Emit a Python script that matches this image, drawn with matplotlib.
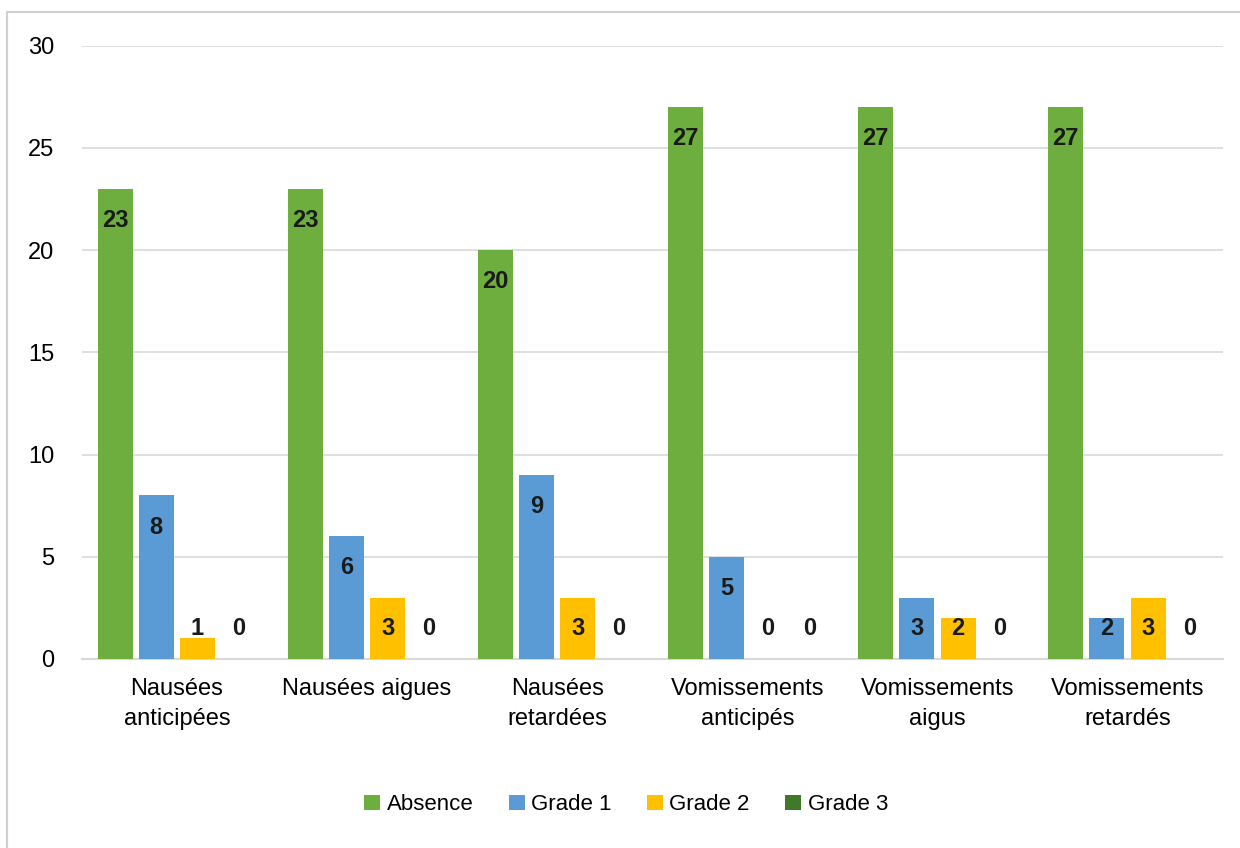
import numpy as np
import matplotlib.pyplot as plt
from matplotlib.patches import Rectangle

plt.rcParams['font.family'] = ['Liberation Sans Narrow', 'Liberation Sans', 'DejaVu Sans']

categories = ["Nausées\nanticipées", "Nausées aigues", "Nausées\nretardées",
              "Vomissements\nanticipés", "Vomissements\naigus", "Vomissements\nretardés"]
series = ["Absence", "Grade 1", "Grade 2", "Grade 3"]
absence = [23, 23, 20, 27, 27, 27]
grade1 = [8, 6, 9, 5, 3, 2]
grade2 = [1, 3, 3, 0, 2, 3]
grade3 = [0, 0, 0, 0, 0, 0]
colors = ["#6DAE3F", "#5B9BD5", "#FFC000", "#3F7A28"]

fig = plt.figure(figsize=(12.4, 8.48), dpi=100)
ax = fig.add_axes([0.066, 0.223, 0.920, 0.723])

x = np.arange(len(categories))
step = 0.217
width = 0.184
for i, (name, vals) in enumerate(zip(series, [absence, grade1, grade2, grade3])):
    pos = x + (i - 1.5) * step
    ax.bar(pos, vals, width, color=colors[i], label=name, zorder=3)
    for xp, v in zip(pos, vals):
        # labels sit inside the bar end, but never below the baseline band
        ypos = max(v - 1.55, 1.5)
        ax.text(xp, ypos, str(v), ha='center', va='center', fontsize=17,
                fontweight='bold', color='#1a1a1a', zorder=4)

ax.set_xlim(-0.5, len(categories) - 0.5)
ax.set_ylim(0, 30)
ax.set_yticks(range(0, 31, 5))
ax.set_xticks(x)
ax.set_xticklabels(categories, fontsize=17, linespacing=1.45)
ax.tick_params(axis='y', labelsize=17, length=0, pad=20)
ax.tick_params(axis='x', length=0, pad=14)
ax.grid(axis='y', color='#D9D9D9', linewidth=1.2, zorder=0)
for s in ['top', 'right', 'left']:
    ax.spines[s].set_visible(False)
ax.spines['bottom'].set_color('#D9D9D9')
ax.spines['bottom'].set_linewidth(1.5)

fig.legend(loc='center', bbox_to_anchor=(0.505, 0.051), ncol=4, frameon=False,
           fontsize=16, handlelength=0.7, handleheight=0.7, handletextpad=0.3,
           columnspacing=1.6)

fig.patches.append(Rectangle((0.006, -0.01), 1.1, 0.996, transform=fig.transFigure,
                             fill=False, edgecolor='#D0D0D0', linewidth=1.5))

fig.savefig("out.png", dpi=100)
